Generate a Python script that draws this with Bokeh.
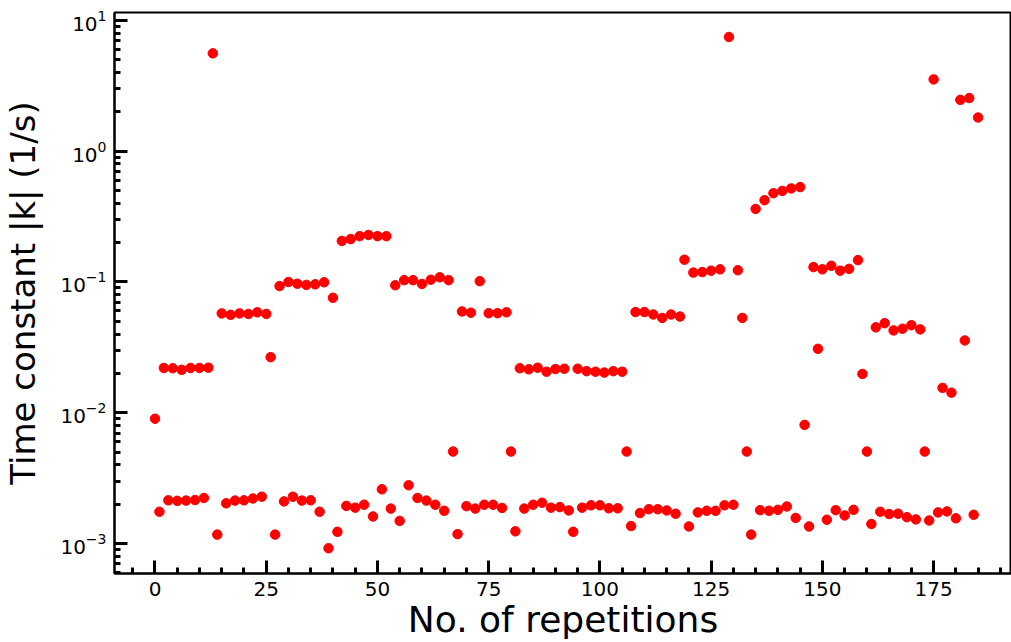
from bokeh.plotting import figure
from bokeh.models import Range1d, SingleIntervalTicker, LogTicker, ColumnDataSource
from bokeh.embed import file_html
from bokeh.resources import INLINE

time_constant = [
    0.0090, 0.00175, 0.0220, 0.00214, 0.0219, 0.00212, 0.0213, 0.00213, 0.0220, 0.00215,
    0.0220, 0.00223, 0.0221, 5.6, 0.00117, 0.0575, 0.00203, 0.0561, 0.00213, 0.0575,
    0.00214, 0.0570, 0.00221, 0.0586, 0.00228, 0.0570, 0.0266, 0.00117, 0.0930, 0.00210,
    0.1000, 0.00228, 0.0970, 0.00213, 0.0950, 0.00214, 0.0960, 0.00175, 0.0995, 0.00092,
    0.0757, 0.00123, 0.206, 0.00194, 0.213, 0.00188, 0.224, 0.00198, 0.229, 0.00161,
    0.224, 0.00260, 0.224, 0.00185, 0.0944, 0.00149, 0.1033, 0.00279, 0.1033, 0.00223,
    0.0966, 0.00213, 0.1040, 0.00198, 0.1086, 0.00178, 0.1033, 0.00505, 0.00118, 0.0595,
    0.00193, 0.0582, 0.00185, 0.1014, 0.00198, 0.0577, 0.00198, 0.0577, 0.00187, 0.0586,
    0.00505, 0.00124, 0.0219, 0.00185, 0.0215, 0.00198, 0.0221, 0.00205, 0.0206, 0.00188,
    0.0216, 0.00190, 0.0217, 0.00179, 0.00123, 0.0217, 0.00188, 0.0208, 0.00196, 0.0206,
    0.00196, 0.0203, 0.00186, 0.0208, 0.00186, 0.0206, 0.00505, 0.00136, 0.0589, 0.00171,
    0.0589, 0.00183, 0.0564, 0.00183, 0.0531, 0.00179, 0.0564, 0.00169, 0.0544, 0.148,
    0.00135, 0.118, 0.00173, 0.119, 0.00178, 0.122, 0.00178, 0.125, 0.00196, 7.47,
    0.00198, 0.123, 0.0531, 0.00505, 0.00117, 0.362, 0.00180, 0.422, 0.00178, 0.477,
    0.00181, 0.497, 0.00192, 0.519, 0.00157, 0.532, 0.00808, 0.00135, 0.130, 0.0308,
    0.125, 0.00152, 0.133, 0.00180, 0.122, 0.00164, 0.126, 0.00181, 0.147, 0.0198,
    0.00505, 0.00141, 0.0450, 0.00175, 0.0484, 0.00168, 0.0426, 0.00169, 0.0439, 0.00159,
    0.0467, 0.00153, 0.0434, 0.00505, 0.00150, 3.54, 0.00173, 0.0155, 0.00176, 0.01425,
    0.00156, 2.47, 0.0357, 2.55, 0.00166, 1.81,
]
repetitions = list(range(len(time_constant)))

x_label = "No. of repetitions"
y_label = "Time constant |k| (1/s)"

src = ColumnDataSource(data=dict(x=repetitions, y=time_constant))

p = figure(width=1011, height=642, output_backend="svg", toolbar_location=None,
           y_axis_type="log",
           x_range=Range1d(-9.1, 192.5), y_range=Range1d(5.9e-4, 11.5),
           min_border_left=113, min_border_right=0, min_border_top=12, min_border_bottom=0)

p.scatter("x", "y", source=src, size=9.5, color="#ff0000", line_color="#ff0000")

font = "DejaVu Sans"
p.grid.visible = False
p.outline_line_color = "black"
p.outline_line_width = 2
p.background_fill_color = "white"
p.border_fill_color = "white"

p.xaxis.ticker = SingleIntervalTicker(interval=25, num_minor_ticks=5)
p.yaxis.ticker = LogTicker(desired_num_ticks=6, num_minor_ticks=10)

for ax in (p.xaxis[0], p.yaxis[0]):
    ax.axis_line_width = 2
    ax.axis_line_color = "black"
    ax.major_tick_in = 13
    ax.major_tick_out = 0
    ax.minor_tick_in = 6
    ax.minor_tick_out = 0
    ax.major_tick_line_width = 3
    ax.minor_tick_line_width = 3
    ax.major_tick_line_color = "black"
    ax.minor_tick_line_color = "black"
    ax.major_label_text_font = font
    ax.major_label_text_font_size = "20px"
    ax.major_label_text_color = "black"
    ax.axis_label_text_font = font
    ax.axis_label_text_font_style = "normal"
    ax.axis_label_text_color = "black"

p.xaxis.axis_label = x_label
p.yaxis.axis_label = y_label
p.xaxis.axis_label_text_font_size = "36px"
p.yaxis.axis_label_text_font_size = "34px"
p.xaxis.major_label_standoff = 8
p.xaxis.axis_label_standoff = 0
p.yaxis.major_label_standoff = 8
p.yaxis.axis_label_standoff = 14

open("out.html", "w").write(file_html(p, INLINE))
